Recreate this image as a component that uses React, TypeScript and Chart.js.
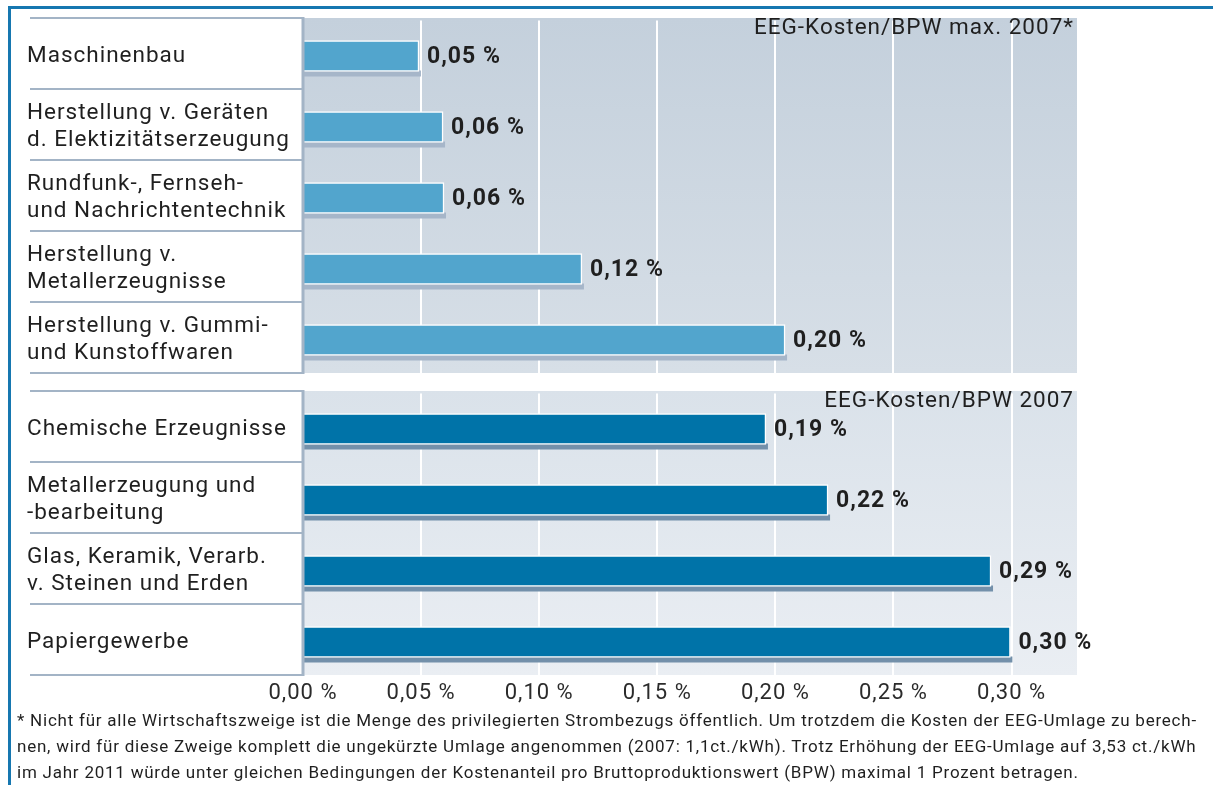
import React, { useEffect, useRef } from "react";
import { Chart, registerables } from "chart.js";

Chart.register(...registerables);

// ---------- data ----------
const topCategories: string[][] = [
  ["Maschinenbau"],
  ["Herstellung v. Geräten", "d. Elektizitätserzeugung"],
  ["Rundfunk-, Fernseh-", "und Nachrichtentechnik"],
  ["Herstellung v.", "Metallerzeugnisse"],
  ["Herstellung v. Gummi-", "und Kunstoffwaren"],
];
const topValues = [0.0491, 0.0593, 0.0597, 0.1181, 0.2041];
const topValueLabels = ["0,05 %", "0,06 %", "0,06 %", "0,12 %", "0,20 %"];
const topTitle = "EEG-Kosten/BPW max. 2007*";

const bottomCategories: string[][] = [
  ["Chemische Erzeugnisse"],
  ["Metallerzeugung und", "-bearbeitung"],
  ["Glas, Keramik, Verarb.", "v. Steinen und Erden"],
  ["Papiergewerbe"],
];
const bottomValues = [0.196, 0.2223, 0.2913, 0.2995];
const bottomValueLabels = ["0,19 %", "0,22 %", "0,29 %", "0,30 %"];
const bottomTitle = "EEG-Kosten/BPW 2007";

const xMin = 0;
const xMax = 0.3277;
const xStep = 0.05;
const xTickLabels = ["0,00 %", "0,05 %", "0,10 %", "0,15 %", "0,20 %", "0,25 %", "0,30 %"];

const footnoteLines = [
  "* Nicht für alle Wirtschaftszweige ist die Menge des privilegierten Strombezugs öffentlich. Um trotzdem die Kosten der EEG-Umlage zu berech-",
  "nen, wird für diese Zweige komplett die ungekürzte Umlage angenommen (2007: 1,1ct./kWh). Trotz Erhöhung der EEG-Umlage auf 3,53 ct./kWh",
  "im Jahr 2011 würde unter gleichen Bedingungen der Kostenanteil pro Bruttoproduktionswert (BPW) maximal 1 Prozent betragen.",
];

// ---------- styles ----------
const FONT = "Roboto, 'Noto Sans', sans-serif";
const PANEL_LINE = "#a3b4c6";
const TEXT = "#1f1f1f";
const OFF = 2.5; // marks sit slightly below the centre of each row

type PanelCfg = {
  labels: string[][];
  values: number[];
  valueLabels: string[];
  title: string;
  barColor: string;
  shadowColor: string;
  bgTop: string;
  bgBottom: string;
  showTicks: boolean;
  padTop: number;
  padBottom: number;
  axisHeight: number;
};

function makeDecor(cfg: PanelCfg) {
  return {
    id: "decor",
    beforeDraw(chart: any) {
      const { ctx, chartArea: a } = chart;
      ctx.letterSpacing = "1px";
      ctx.save();
      const top = a.top - OFF;
      const bottom = a.bottom - OFF;
      const g = ctx.createLinearGradient(0, top, 0, bottom);
      g.addColorStop(0, cfg.bgTop);
      g.addColorStop(1, cfg.bgBottom);
      ctx.fillStyle = g;
      ctx.fillRect(a.left, top, a.right - a.left, bottom - top);
      ctx.restore();
    },
    beforeDatasetsDraw(chart: any) {
      const { ctx, chartArea: a } = chart;
      // hide the part of the grid that lies below the panel
      ctx.save();
      ctx.fillStyle = "#ffffff";
      ctx.fillRect(a.left - 2, a.bottom - OFF, a.right - a.left + 4, OFF + 1);
      ctx.restore();
      const meta = chart.getDatasetMeta(0);
      ctx.save();
      ctx.fillStyle = cfg.shadowColor;
      meta.data.forEach((bar: any) => {
        const h = bar.height;
        ctx.fillRect(bar.base, bar.y + h / 2 - 1, bar.x + 2 - bar.base, 6);
      });
      ctx.restore();
    },
    afterDatasetsDraw(chart: any) {
      const { ctx } = chart;
      const meta = chart.getDatasetMeta(0);
      ctx.save();
      ctx.font = `bold 23px ${FONT}`;
      ctx.fillStyle = TEXT;
      ctx.textAlign = "left";
      ctx.textBaseline = "middle";
      meta.data.forEach((bar: any, i: number) => {
        ctx.fillText(cfg.valueLabels[i], bar.x + 8, bar.y + 1);
      });
      ctx.restore();
    },
    afterDraw(chart: any) {
      const { ctx, chartArea: a } = chart;
      const n = cfg.labels.length;
      const top = a.top - OFF;
      const bottom = a.bottom - OFF;
      const rowH = (bottom - top) / n;
      ctx.save();
      ctx.strokeStyle = PANEL_LINE;
      ctx.lineWidth = 2;
      for (let i = 0; i <= n; i++) {
        const y = Math.round(top + i * rowH);
        ctx.beginPath();
        ctx.moveTo(30, y);
        ctx.lineTo(a.left, y);
        ctx.stroke();
      }
      ctx.lineWidth = 3;
      ctx.beginPath();
      ctx.moveTo(a.left, top - 1);
      ctx.lineTo(a.left, bottom + 1);
      ctx.stroke();
      ctx.font = `22.5px ${FONT}`;
      ctx.fillStyle = TEXT;
      ctx.textAlign = "right";
      ctx.textBaseline = "middle";
      ctx.fillText(cfg.title, a.right - 3, top + 10.5);
      ctx.restore();
    },
  };
}

function Panel({ cfg, top, height }: { cfg: PanelCfg; top: number; height: number }) {
  const ref = useRef<HTMLCanvasElement | null>(null);
  useEffect(() => {
    if (!ref.current) return;
    const chart = new Chart(ref.current, {
      type: "bar",
      data: {
        labels: cfg.labels as any,
        datasets: [
          {
            data: cfg.values,
            backgroundColor: cfg.barColor,
            borderColor: "#ffffff",
            borderWidth: 1.5,
            barThickness: 31,
          },
        ],
      },
      options: {
        indexAxis: "y",
        animation: false,
        responsive: false,
        events: [],
        layout: { padding: { left: 27, right: 136, top: cfg.padTop, bottom: cfg.padBottom } },
        plugins: { legend: { display: false }, tooltip: { enabled: false }, title: { display: false } },
        scales: {
          x: {
            type: "linear",
            min: xMin,
            max: xMax,
            grid: { color: "#ffffff", lineWidth: 2, drawTicks: false },
            border: { display: false },
            ticks: {
              display: cfg.showTicks,
              stepSize: xStep,
              includeBounds: false,
              autoSkip: false,
              maxRotation: 0,
              padding: 3,
              color: "#2b2b2b",
              font: { family: FONT, size: 22 },
              callback: (_v: any, i: number) => xTickLabels[i] ?? "",
            },
            afterFit: (s: any) => {
              s.height = cfg.axisHeight;
              s.paddingLeft = 0;
              s.paddingRight = 0;
            },
          },
          y: {
            type: "category",
            grid: { display: false },
            border: { display: false },
            ticks: {
              crossAlign: "far",
              color: TEXT,
              font: { family: FONT, size: 22.5, lineHeight: 27 / 22.5 },
              autoSkip: false,
            },
            afterFit: (s: any) => {
              s.width = 303 - 27;
              s.paddingTop = 0;
              s.paddingBottom = 0;
            },
          },
        },
      } as any,
      plugins: [makeDecor(cfg)],
    });
    return () => chart.destroy();
  }, []);
  return (
    <canvas
      ref={ref}
      width={1213}
      height={height}
      style={{ position: "absolute", left: 0, top, width: 1213, height, display: "block" }}
    />
  );
}

const topCfg: PanelCfg = {
  labels: topCategories,
  values: topValues,
  valueLabels: topValueLabels,
  title: topTitle,
  barColor: "#52a5cd",
  shadowColor: "#a6b6c9",
  bgTop: "#c4d0dc",
  bgBottom: "#d7dfe7",
  showTicks: false,
  padTop: 18 + OFF,
  padBottom: 7 - OFF,
  axisHeight: 0,
};

const bottomCfg: PanelCfg = {
  labels: bottomCategories,
  values: bottomValues,
  valueLabels: bottomValueLabels,
  title: bottomTitle,
  barColor: "#0073a8",
  shadowColor: "#7390aa",
  bgTop: "#dae2ea",
  bgBottom: "#eaeef3",
  showTicks: true,
  padTop: 11 + OFF,
  padBottom: 0,
  axisHeight: 35 - OFF,
};

export default function App() {
  return (
    <div
      style={{
        position: "absolute",
        left: 0,
        top: 0,
        width: 1213,
        height: 785,
        background: "#ffffff",
        overflow: "hidden",
        fontFamily: FONT,
      }}
    >
      <div
        style={{
          position: "absolute",
          left: 8,
          top: 6,
          width: 1213,
          height: 800,
          borderTop: "3px solid #1677b0",
          borderLeft: "3px solid #1677b0",
        }}
      />
      <Panel cfg={topCfg} top={0} height={380} />
      <Panel cfg={bottomCfg} top={380} height={330} />
      <div
        style={{
          position: "absolute",
          left: 17,
          top: 707,
          fontSize: 17,
          lineHeight: "26px",
          color: TEXT,
          letterSpacing: "0.77px",
          whiteSpace: "nowrap",
        }}
      >
        {footnoteLines.map((l, i) => (
          <div key={i}>{l}</div>
        ))}
      </div>
    </div>
  );
}
